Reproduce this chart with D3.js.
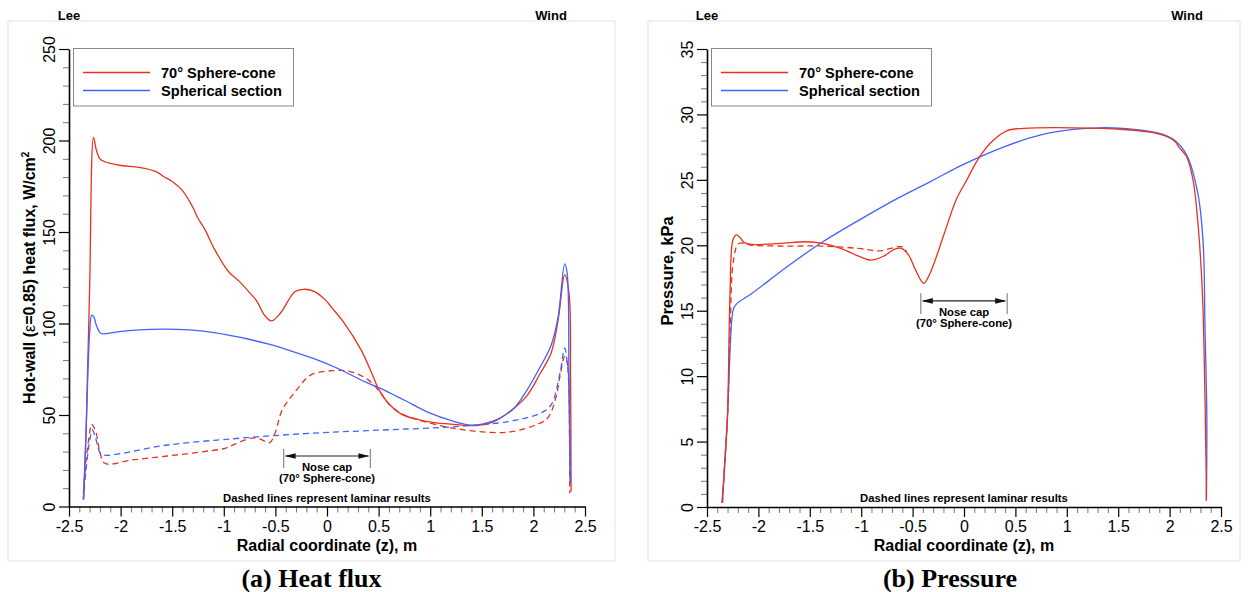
<!DOCTYPE html>
<html><head><meta charset="utf-8">
<script src="https://cdn.jsdelivr.net/npm/d3@7"></script>
<style>body{margin:0;background:#fff}svg{display:block}</style>
</head><body><svg id="c" width="1248" height="592"></svg>
<script>
// ---------- DATA ----------
const xTicks = [-2.5,-2,-1.5,-1,-0.5,0,0.5,1,1.5,2,2.5];
const xTickLabels = ["-2.5","-2","-1.5","-1","-0.5","0","0.5","1","1.5","2","2.5"];
const hfTicks = [0,50,100,150,200,250];
const pTicks = [0,5,10,15,20,25,30,35];
const seriesNames = ["70\u00B0 Sphere-cone","Spherical section"];

// Heat flux, turbulent (solid) - 70 deg sphere-cone
const hfConeTurbZ = [-2.358,-2.335,-2.30,-2.262,-2.235,-2.2,-2.153,-2.10,-1.98,-1.823,-1.656,-1.58,-1.51,-1.406,-1.30,-1.25,-1.18,-1.094,-0.955,-0.85,-0.746,-0.677,-0.608,-0.538,-0.452,-0.312,-0.226,-0.121,-0.017,0.052,0.157,0.33,0.434,0.504,0.60,0.72,0.886,1.025,1.2,1.45,1.6,1.75,1.93,2.067,2.171,2.24,2.303,2.345,2.36,2.365];
const hfConeTurbQ = [4,40,120,201.7,194.8,190,188.4,187.5,186.2,185.3,183,180.2,178,173,163.5,157.5,151,141,128.4,123,116.6,112,104.7,101.4,105.6,117.4,118.7,117.4,112.9,108.3,101,85.6,72.8,63.7,56,50.5,47.5,46,45,44.2,46,51,60,72.8,83.7,102,126.5,116.6,70,8];
// Heat flux, turbulent (solid) - spherical section
const hfSphTurbZ = [-2.36,-2.335,-2.30,-2.28,-2.258,-2.235,-2.20,-2.17,-2.032,-1.823,-1.58,-1.337,-1.094,-0.85,-0.573,-0.33,-0.052,0.122,0.365,0.539,0.746,1.0,1.2,1.4,1.6,1.8,1.929,2.067,2.171,2.24,2.303,2.327,2.345,2.36];
const hfSphTurbQ = [4,40,95,104.6,103.5,99,95,94.3,95.4,96.5,96.9,96.5,95,92.5,88.8,84.6,79.2,75,68.2,64,58.2,51,47,44.5,46.5,53,62.8,76.4,88,103.8,132.6,127.6,70,12.6];
// Heat flux, laminar (dashed) - 70 deg sphere-cone
const hfConeLamZ = [-2.361,-2.335,-2.30,-2.282,-2.24,-2.205,-2.153,-1.892,-1.546,-1.198,-0.989,-0.886,-0.781,-0.70,-0.642,-0.555,-0.504,-0.434,-0.347,-0.295,-0.156,0.052,0.226,0.40,0.521,0.60,0.712,0.886,1.234,1.58,1.789,1.997,2.136,2.22,2.26,2.303,2.33,2.345,2.352];
const hfConeLamQ = [7.2,25,40,45,40.9,30.9,23.6,25.4,27.6,30,31.8,34.2,36.7,37.5,36.7,34.9,40,52.8,60,63.7,71.9,74.2,73.7,69.2,61.9,56,51,47.3,42.7,40.5,40.9,44,48.2,60,72,81.9,78,60,7.2];
// Heat flux, laminar (dashed) - spherical section
const hfSphLamZ = [-2.362,-2.335,-2.30,-2.274,-2.24,-2.205,-2.171,-1.546,-0.85,-0.156,0.539,1.234,1.754,2.067,2.171,2.258,2.303,2.337,2.35,2.355];
const hfSphLamQ = [3.6,20,36,41.8,37,30,28.2,33.6,37.3,40,41.8,43.6,46.4,51,55.5,73,86.5,73,40,14.5];

// Pressure, turbulent (solid) - 70 deg sphere-cone
const pConeTurbZ = [-2.35,-2.33,-2.301,-2.276,-2.248,-2.214,-2.179,-2.137,-2.068,-1.79,-1.547,-1.373,-1.199,-1.025,-0.904,-0.782,-0.678,-0.609,-0.539,-0.47,-0.393,-0.331,-0.192,-0.078,0.026,0.139,0.253,0.415,0.577,1.063,1.55,1.874,2.036,2.101,2.166,2.23,2.27,2.296,2.322,2.345,2.355,2.358];
const pConeTurbP = [0.3,3,6.9,16.3,20.4,20.8,20.6,20.2,20.07,20.14,20.27,20.14,19.76,19.17,18.87,19.17,19.69,19.76,19.25,18.1,17.1,17.85,20.9,23.45,24.98,26.6,27.78,28.75,28.93,28.98,28.85,28.55,28.04,27.4,26.76,24.9,22.18,19.6,15.8,8,3,0.5];
// Pressure, turbulent (solid) - spherical section
const pSphTurbZ = [-2.355,-2.33,-2.301,-2.259,-2.24,-2.207,-2.068,-1.721,-1.373,-1.025,-0.678,-0.331,0.0,0.415,0.739,1.063,1.323,1.55,1.874,2.036,2.166,2.275,2.327,2.344,2.362,2.358];
const pSphTurbP = [0.3,3,6.9,14.3,15.2,15.56,16.3,18.36,20.27,21.9,23.45,24.85,26.2,27.6,28.42,28.85,28.98,28.93,28.6,28.1,26.9,23.96,20.1,13.8,6.9,0.5];
// Pressure, laminar (dashed) - 70 deg sphere-cone (where it differs)
const pConeLamZ = [-2.35,-2.33,-2.30,-2.276,-2.241,-2.19,-2.068,-1.721,-1.373,-1.025,-0.817,-0.643,-0.591,-0.56];
const pConeLamP = [0.3,3,6.9,13.3,18.9,20.14,20.0,19.94,19.94,19.76,19.58,19.89,19.85,19.5];

// ---------- STYLE ----------
const RED = "#e6321e", BLUE = "#4262ff";
const SANS = "'Liberation Sans', Arial, Helvetica, sans-serif";
const SERIF = "'Liberation Serif', 'Times New Roman', serif";

const svg = d3.select("#c");
const zip = (a,b)=>a.map((v,i)=>[v,b[i]]);

function drawPanel(o){
  const g = svg.append("g");
  g.append("rect").attr("x",o.frame[0]).attr("y",o.frame[1])
    .attr("width",o.frame[2]-o.frame[0]).attr("height",o.frame[3]-o.frame[1])
    .attr("fill","none").attr("stroke","#e3e3e3").attr("stroke-width",1);

  const x = d3.scaleLinear().domain([-2.5,2.5]).range([o.plot[0],o.plot[1]]);
  const y = d3.scaleLinear().domain([0,o.yMax]).range([o.plot[3],o.plot[2]]);

  // minor ticks
  const xMinor = d3.range(-25,26).filter(i=>i%5!==0).map(i=>i/10);
  g.append("g").attr("transform",`translate(0,${o.plot[3]})`)
    .call(d3.axisBottom(x).tickValues(xMinor).tickSize(6).tickSizeOuter(0).tickFormat(""))
    .call(a=>{a.select(".domain").remove();a.selectAll("line").attr("stroke","#777");});
  const yMinor = d3.range(0,o.yMax/o.yMinor+1).filter(i=>i%5!==0).map(i=>i*o.yMinor);
  g.append("g").attr("transform",`translate(${o.plot[0]},0)`)
    .call(d3.axisLeft(y).tickValues(yMinor).tickSize(6).tickSizeOuter(0).tickFormat(""))
    .call(a=>{a.select(".domain").remove();a.selectAll("line").attr("stroke","#777");});

  // major x
  const xa = g.append("g").attr("transform",`translate(0,${o.plot[3]})`)
    .call(d3.axisBottom(x).tickValues(xTicks).tickSize(10).tickSizeOuter(0).tickPadding(4)
      .tickFormat((d,i)=>xTickLabels[i]));
  xa.select(".domain").attr("stroke","#000").attr("stroke-width",1.6);
  xa.selectAll("line").attr("stroke","#000").attr("stroke-width",1.2);
  xa.selectAll("text").attr("font-family",SANS).attr("font-size",16).attr("fill","#000");

  // major y
  const ya = g.append("g").attr("transform",`translate(${o.plot[0]},0)`)
    .call(d3.axisLeft(y).tickValues(o.yTicks).tickSize(10).tickSizeOuter(0).tickFormat(""));
  ya.select(".domain").attr("stroke","#000").attr("stroke-width",1.6);
  ya.selectAll("line").attr("stroke","#000").attr("stroke-width",1.2);
  ya.selectAll(".tick").append("text")
    .attr("transform","translate(-14,0) rotate(-90)")
    .attr("text-anchor","middle").attr("font-family",SANS).attr("font-size",16).attr("fill","#000")
    .text(d=>String(d));

  // titles
  g.append("text").attr("x",x(0)).attr("y",551).attr("text-anchor","middle")
    .attr("font-family",SANS).attr("font-weight","bold").attr("font-size",16).text("Radial coordinate (z), m");
  const yt = g.append("text")
    .attr("transform",`translate(${o.plot[0]-34},${(o.plot[2]+o.plot[3])/2+o.ytDy}) rotate(-90)`)
    .attr("text-anchor","middle").attr("font-family",SANS).attr("font-weight","bold").attr("font-size",o.ytSize);
  o.yTitle(yt);

  g.append("text").attr("x",o.plot[0]).attr("y",19.5).attr("text-anchor","middle")
    .attr("font-family",SANS).attr("font-weight","bold").attr("font-size",13).text("Lee");
  g.append("text").attr("x",o.plot[1]-34).attr("y",19.5).attr("text-anchor","middle")
    .attr("font-family",SANS).attr("font-weight","bold").attr("font-size",13).text("Wind");

  g.append("text").attr("x",(o.frame[0]+o.frame[2])/2+o.capDx).attr("y",587).attr("text-anchor","middle")
    .attr("font-family",SERIF).attr("font-weight","bold").attr("font-size",26).text(o.caption);

  g.append("text").attr("x",x(0)).attr("y",501.5).attr("text-anchor","middle")
    .attr("font-family",SANS).attr("font-weight","bold").attr("font-size",11.3)
    .text("Dashed lines represent laminar results");

  // nose cap annotation
  const a = o.nose;
  const xl = x(-0.42), xr = x(0.42), ya0 = y(a.lo), ya1 = y(a.hi), yarr = y(a.mid);
  g.append("line").attr("x1",xl).attr("x2",xl).attr("y1",ya1).attr("y2",ya0).attr("stroke","#888").attr("stroke-width",1.2);
  g.append("line").attr("x1",xr).attr("x2",xr).attr("y1",ya1).attr("y2",ya0).attr("stroke","#888").attr("stroke-width",1.2);
  g.append("line").attr("x1",xl+2).attr("x2",xr-2).attr("y1",yarr).attr("y2",yarr).attr("stroke","#222").attr("stroke-width",1.1);
  g.append("path").attr("d",`M${xl+1},${yarr}L${xl+12},${yarr-2.8}L${xl+12},${yarr+2.8}Z`).attr("fill","#111");
  g.append("path").attr("d",`M${xr-1},${yarr}L${xr-12},${yarr-2.8}L${xr-12},${yarr+2.8}Z`).attr("fill","#111");
  g.append("text").attr("x",(xl+xr)/2).attr("y",yarr+15.5).attr("text-anchor","middle")
    .attr("font-family",SANS).attr("font-weight","bold").attr("font-size",11.3).text("Nose cap");
  g.append("text").attr("x",(xl+xr)/2).attr("y",yarr+26.5).attr("text-anchor","middle")
    .attr("font-family",SANS).attr("font-weight","bold").attr("font-size",11.3).text("(70\u00B0 Sphere-cone)");

  // lines
  const line = d3.line().x(d=>x(d[0])).y(d=>y(d[1])).curve(d3.curveCatmullRom.alpha(0.5));
  o.series.forEach(s=>{
    g.append("path").attr("d",line(s.data)).attr("fill","none").attr("stroke",s.color)
      .attr("stroke-width",1.3).attr("stroke-dasharray",s.dash?"6,4":null).attr("stroke-linejoin","round");
  });

  // legend
  const L = o.plot[0];
  g.append("rect").attr("x",L+4.5).attr("y",48.5).attr("width",220).attr("height",57.5)
    .attr("fill","#fff").attr("stroke","#888").attr("stroke-width",1);
  [RED,BLUE].forEach((c,i)=>{
    const yy = 72.5 + i*18;
    g.append("line").attr("x1",L+14).attr("x2",L+81).attr("y1",yy).attr("y2",yy).attr("stroke",c).attr("stroke-width",1.4);
    g.append("text").attr("x",L+92).attr("y",yy+5).attr("font-family",SANS).attr("font-weight","bold")
      .attr("font-size",14.6).text(seriesNames[i]);
  });
}

drawPanel({
  frame:[8,21,615,561], plot:[69,585,49,506.5], yMax:250, yTicks:hfTicks, yMinor:10,
  caption:"(a) Heat flux", capDx:0, ytSize:16, ytDy:0,
  nose:{lo:21,hi:31.4,mid:27.6},
  yTitle:t=>{t.append("tspan").text("Hot-wall (");t.append("tspan").attr("font-weight","normal").text("\u03B5");
    t.append("tspan").text("=0.85) heat flux, W/cm");t.append("tspan").attr("dy",-6).attr("font-size",10).text("2");},
  series:[
    {data:zip(hfConeLamZ,hfConeLamQ),color:RED,dash:true},
    {data:zip(hfSphLamZ,hfSphLamQ),color:BLUE,dash:true},
    {data:zip(hfConeTurbZ,hfConeTurbQ),color:RED},
    {data:zip(hfSphTurbZ,hfSphTurbQ),color:BLUE}
  ]
});
drawPanel({
  frame:[648,21,1240,561], plot:[707,1221,49,507], yMax:35, yTicks:pTicks, yMinor:1,
  caption:"(b) Pressure", capDx:6, ytSize:16.5, ytDy:-7,
  nose:{lo:14.74,hi:16.33,mid:15.75},
  yTitle:t=>t.text("Pressure, kPa"),
  series:[
    {data:zip(pConeLamZ,pConeLamP),color:RED,dash:true},
    {data:zip(pSphTurbZ,pSphTurbP),color:BLUE},
    {data:zip(pConeTurbZ,pConeTurbP),color:RED}
  ]
});
</script></body></html>
